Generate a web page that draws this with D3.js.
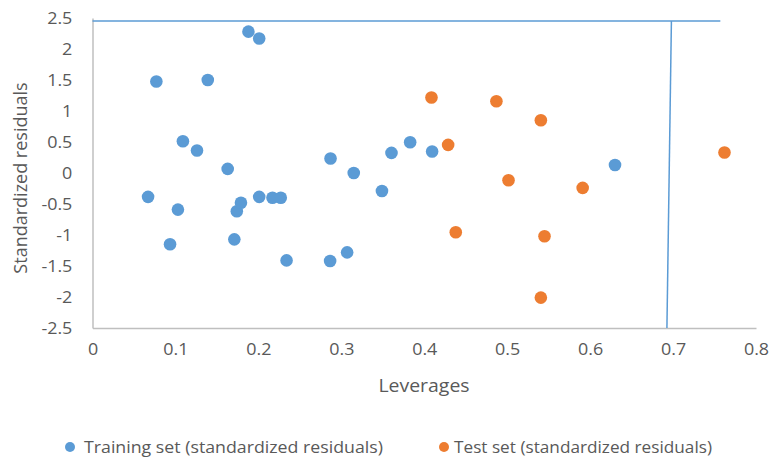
<!DOCTYPE html>
<html><head><meta charset="utf-8">
<script src="https://cdn.jsdelivr.net/npm/d3@7"></script>
<style>body{margin:0;background:#fff}svg{display:block}text{font-family:"Open Sans",sans-serif}</style>
</head><body>
<svg id="c" width="771" height="457"></svg>
<script>
const trainX = [0.067,0.077,0.0935,0.103,0.109,0.126,0.139,0.163,0.171,0.174,0.179,0.188,0.201,0.201,0.217,0.227,0.234,0.287,0.2865,0.307,0.315,0.349,0.3605,0.383,0.4095,0.63];
const trainY = [-0.385,1.476,-1.15,-0.59,0.513,0.363,1.50,0.066,-1.07,-0.616,-0.48,2.28,2.17,-0.385,-0.40,-0.40,-1.41,0.234,-1.42,-1.28,0.0,-0.29,0.324,0.497,0.347,0.13];
const testX = [0.4087,0.4288,0.438,0.487,0.5016,0.5406,0.545,0.5406,0.591,0.762];
const testY = [1.218,0.453,-0.955,1.158,-0.116,0.852,-1.02,-2.01,-0.24,0.33];
const limitHX = [0, 0.757];
const limitHY = [2.45, 2.45];
const limitVX = [0.6926, 0.698];
const limitVY = [-2.5, 2.45];
const xTicks = [0,0.1,0.2,0.3,0.4,0.5,0.6,0.7,0.8];
const yTicks = [-2.5,-2,-1.5,-1,-0.5,0,0.5,1,1.5,2,2.5];
const seriesNames = ["Training set (standardized residuals)","Test set (standardized residuals)"];
const colors = ["#5B9BD5","#ED7D31"];

const svg = d3.select("#c");
const x = d3.scaleLinear().domain([0,0.8]).range([92.5,756]);
const y = d3.scaleLinear().domain([-2.5,2.5]).range([328,18]);
const fmt = d => String(d);
const SX = 1.12;

// axes
const xa = svg.append("g").attr("transform",`translate(0,${y(-2.5)})`)
  .call(d3.axisBottom(x).tickValues(xTicks).tickFormat(fmt).tickSize(0).tickPadding(16));
const ya = svg.append("g").attr("transform",`translate(${x(0)},0)`)
  .call(d3.axisLeft(y).tickValues(yTicks).tickFormat(fmt).tickSize(0).tickPadding(18));
[xa,ya].forEach(a=>{
  a.select(".domain").attr("stroke","#BFBFBF").attr("stroke-width",1.5);
  a.selectAll("text").attr("fill","#595959").style("font-size","16px")
   .style("font-family","'Open Sans',sans-serif").attr("transform",`scale(${SX},1)`);
});

// limit lines
const line = d3.line().x(d=>x(d[0])).y(d=>y(d[1]));
svg.append("path").datum(limitHX.map((v,i)=>[v,limitHY[i]])).attr("d",line)
  .attr("fill","none").attr("stroke","#5B9BD5").attr("stroke-width",1.5);
svg.append("path").datum(limitVX.map((v,i)=>[v,limitVY[i]])).attr("d",line)
  .attr("fill","none").attr("stroke","#5B9BD5").attr("stroke-width",1.5);

// points
svg.append("g").selectAll("circle").data(trainX).join("circle")
  .attr("cx",d=>x(d)).attr("cy",(d,i)=>y(trainY[i])).attr("r",6.3).attr("fill",colors[0]);
svg.append("g").selectAll("circle").data(testX).join("circle")
  .attr("cx",d=>x(d)).attr("cy",(d,i)=>y(testY[i])).attr("r",6.3).attr("fill",colors[1]);

// titles
svg.append("text").attr("transform",`translate(424,392) scale(1.08,1)`).attr("text-anchor","middle")
  .attr("fill","#595959").style("font-size","18px").text("Leverages");
svg.append("text").attr("transform","translate(27,178) rotate(-90)").attr("text-anchor","middle")
  .attr("fill","#595959").style("font-size","18px").text("Standardized residuals");

// legend
const lg = [{cx:70,tx:84,s:1.11},{cx:444,tx:454,s:1.075}];
lg.forEach((l,i)=>{
  svg.append("circle").attr("cx",l.cx).attr("cy",447).attr("r",5).attr("fill",colors[i]);
  svg.append("text").attr("transform",`translate(${l.tx},453) scale(${l.s},1)`).attr("fill","#595959")
    .style("font-size","16px").text(seriesNames[i]);
});
</script>
</body></html>
